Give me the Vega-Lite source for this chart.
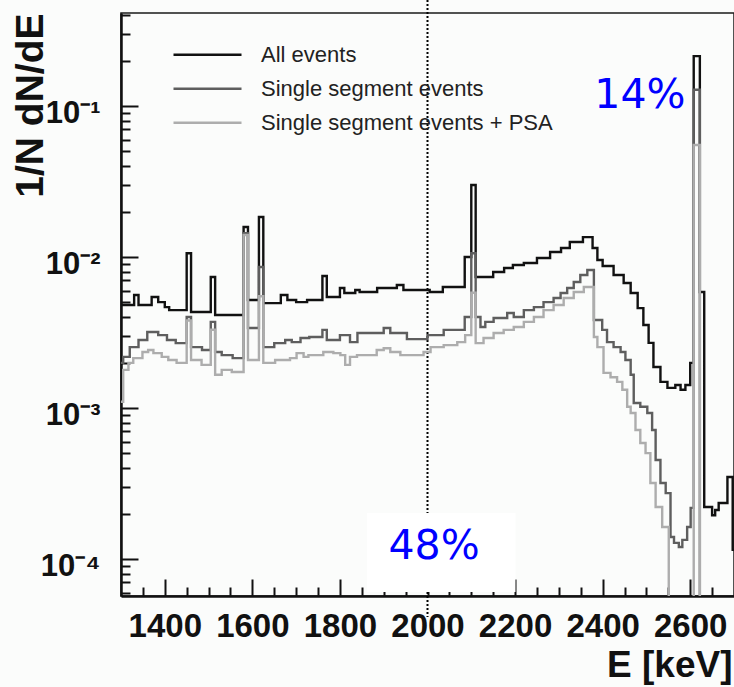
{
  "$schema": "https://vega.github.io/schema/vega-lite/v6.json",
  "width": 613,
  "height": 583,
  "autosize": {"type": "none"},
  "padding": {"left": 121, "top": 13, "right": 0, "bottom": 91},
  "background": "#fbfcfb",
  "config": {
    "font": "Liberation Sans",
    "view": {"stroke": "#1a1a1a", "strokeWidth": 1.5}
  },
  "datasets": {
    "spectra": [
      {"series": "All events", "E": 1300, "v": 0.00481},
      {"series": "All events", "E": 1330, "v": 0.0056},
      {"series": "All events", "E": 1340, "v": 0.00481},
      {"series": "All events", "E": 1370, "v": 0.00543},
      {"series": "All events", "E": 1385, "v": 0.00503},
      {"series": "All events", "E": 1400, "v": 0.00466},
      {"series": "All events", "E": 1410, "v": 0.00445},
      {"series": "All events", "E": 1450, "v": 0.0106},
      {"series": "All events", "E": 1460, "v": 0.00432},
      {"series": "All events", "E": 1505, "v": 0.00738},
      {"series": "All events", "E": 1515, "v": 0.00413},
      {"series": "All events", "E": 1580, "v": 0.0158},
      {"series": "All events", "E": 1590, "v": 0.00519},
      {"series": "All events", "E": 1615, "v": 0.0184},
      {"series": "All events", "E": 1625, "v": 0.00495},
      {"series": "All events", "E": 1665, "v": 0.0056},
      {"series": "All events", "E": 1680, "v": 0.00519},
      {"series": "All events", "E": 1700, "v": 0.00503},
      {"series": "All events", "E": 1725, "v": 0.00519},
      {"series": "All events", "E": 1760, "v": 0.00749},
      {"series": "All events", "E": 1770, "v": 0.00543},
      {"series": "All events", "E": 1800, "v": 0.00624},
      {"series": "All events", "E": 1810, "v": 0.00578},
      {"series": "All events", "E": 1835, "v": 0.00605},
      {"series": "All events", "E": 1845, "v": 0.00586},
      {"series": "All events", "E": 1885, "v": 0.00624},
      {"series": "All events", "E": 1930, "v": 0.00653},
      {"series": "All events", "E": 1945, "v": 0.00605},
      {"series": "All events", "E": 2005, "v": 0.00586},
      {"series": "All events", "E": 2035, "v": 0.00633},
      {"series": "All events", "E": 2085, "v": 0.01},
      {"series": "All events", "E": 2100, "v": 0.03},
      {"series": "All events", "E": 2110, "v": 0.00738},
      {"series": "All events", "E": 2150, "v": 0.00796},
      {"series": "All events", "E": 2175, "v": 0.00845},
      {"series": "All events", "E": 2195, "v": 0.00885},
      {"series": "All events", "E": 2220, "v": 0.00913},
      {"series": "All events", "E": 2250, "v": 0.00985},
      {"series": "All events", "E": 2280, "v": 0.01079},
      {"series": "All events", "E": 2305, "v": 0.01147},
      {"series": "All events", "E": 2325, "v": 0.01256},
      {"series": "All events", "E": 2355, "v": 0.01355},
      {"series": "All events", "E": 2377, "v": 0.01147},
      {"series": "All events", "E": 2388, "v": 0.00955},
      {"series": "All events", "E": 2400, "v": 0.00871},
      {"series": "All events", "E": 2425, "v": 0.0076},
      {"series": "All events", "E": 2448, "v": 0.00673},
      {"series": "All events", "E": 2464, "v": 0.00578},
      {"series": "All events", "E": 2480, "v": 0.00459},
      {"series": "All events", "E": 2493, "v": 0.00355},
      {"series": "All events", "E": 2505, "v": 0.0027},
      {"series": "All events", "E": 2516, "v": 0.00187},
      {"series": "All events", "E": 2532, "v": 0.00149},
      {"series": "All events", "E": 2548, "v": 0.00136},
      {"series": "All events", "E": 2566, "v": 0.00142},
      {"series": "All events", "E": 2578, "v": 0.00132},
      {"series": "All events", "E": 2589, "v": 0.00142},
      {"series": "All events", "E": 2600, "v": 0.00199},
      {"series": "All events", "E": 2608, "v": 0.214},
      {"series": "All events", "E": 2622, "v": 0.00586},
      {"series": "All events", "E": 2632, "v": 0.000221},
      {"series": "All events", "E": 2650, "v": 0.000195},
      {"series": "All events", "E": 2657, "v": 0.000211},
      {"series": "All events", "E": 2665, "v": 0.000235},
      {"series": "All events", "E": 2685, "v": 0.000349},
      {"series": "All events", "E": 2697, "v": 0.000115},
      {"series": "All events", "E": 2700, "v": 0.000115},

      {"series": "Single segment events", "E": 1300, "v": 0.00199},
      {"series": "Single segment events", "E": 1305, "v": 0.00218},
      {"series": "Single segment events", "E": 1320, "v": 0.00253},
      {"series": "Single segment events", "E": 1340, "v": 0.00282},
      {"series": "Single segment events", "E": 1360, "v": 0.00319},
      {"series": "Single segment events", "E": 1385, "v": 0.00304},
      {"series": "Single segment events", "E": 1405, "v": 0.00282},
      {"series": "Single segment events", "E": 1425, "v": 0.00269},
      {"series": "Single segment events", "E": 1450, "v": 0.00401},
      {"series": "Single segment events", "E": 1460, "v": 0.00253},
      {"series": "Single segment events", "E": 1485, "v": 0.00242},
      {"series": "Single segment events", "E": 1505, "v": 0.00372},
      {"series": "Single segment events", "E": 1515, "v": 0.00235},
      {"series": "Single segment events", "E": 1530, "v": 0.00224},
      {"series": "Single segment events", "E": 1555, "v": 0.00214},
      {"series": "Single segment events", "E": 1580, "v": 0.0144},
      {"series": "Single segment events", "E": 1590, "v": 0.00339},
      {"series": "Single segment events", "E": 1615, "v": 0.00859},
      {"series": "Single segment events", "E": 1625, "v": 0.00253},
      {"series": "Single segment events", "E": 1650, "v": 0.00269},
      {"series": "Single segment events", "E": 1675, "v": 0.00282},
      {"series": "Single segment events", "E": 1690, "v": 0.00273},
      {"series": "Single segment events", "E": 1710, "v": 0.00291},
      {"series": "Single segment events", "E": 1730, "v": 0.00295},
      {"series": "Single segment events", "E": 1760, "v": 0.00329},
      {"series": "Single segment events", "E": 1770, "v": 0.00282},
      {"series": "Single segment events", "E": 1800, "v": 0.00304},
      {"series": "Single segment events", "E": 1823, "v": 0.00273},
      {"series": "Single segment events", "E": 1840, "v": 0.00314},
      {"series": "Single segment events", "E": 1900, "v": 0.00339},
      {"series": "Single segment events", "E": 1915, "v": 0.00314},
      {"series": "Single segment events", "E": 1953, "v": 0.00286},
      {"series": "Single segment events", "E": 2000, "v": 0.00304},
      {"series": "Single segment events", "E": 2037, "v": 0.00329},
      {"series": "Single segment events", "E": 2085, "v": 0.00401},
      {"series": "Single segment events", "E": 2100, "v": 0.0106},
      {"series": "Single segment events", "E": 2110, "v": 0.00401},
      {"series": "Single segment events", "E": 2121, "v": 0.00344},
      {"series": "Single segment events", "E": 2132, "v": 0.00372},
      {"series": "Single segment events", "E": 2151, "v": 0.00395},
      {"series": "Single segment events", "E": 2182, "v": 0.00426},
      {"series": "Single segment events", "E": 2197, "v": 0.00401},
      {"series": "Single segment events", "E": 2220, "v": 0.00445},
      {"series": "Single segment events", "E": 2243, "v": 0.00466},
      {"series": "Single segment events", "E": 2265, "v": 0.00503},
      {"series": "Single segment events", "E": 2288, "v": 0.00535},
      {"series": "Single segment events", "E": 2304, "v": 0.00578},
      {"series": "Single segment events", "E": 2319, "v": 0.00624},
      {"series": "Single segment events", "E": 2334, "v": 0.00683},
      {"series": "Single segment events", "E": 2349, "v": 0.0076},
      {"series": "Single segment events", "E": 2365, "v": 0.0082},
      {"series": "Single segment events", "E": 2380, "v": 0.00383},
      {"series": "Single segment events", "E": 2399, "v": 0.00329},
      {"series": "Single segment events", "E": 2410, "v": 0.00273},
      {"series": "Single segment events", "E": 2425, "v": 0.00253},
      {"series": "Single segment events", "E": 2441, "v": 0.00235},
      {"series": "Single segment events", "E": 2452, "v": 0.00208},
      {"series": "Single segment events", "E": 2464, "v": 0.00166},
      {"series": "Single segment events", "E": 2471, "v": 0.00108},
      {"series": "Single segment events", "E": 2486, "v": 0.00102},
      {"series": "Single segment events", "E": 2502, "v": 0.000927},
      {"series": "Single segment events", "E": 2513, "v": 0.000715},
      {"series": "Single segment events", "E": 2521, "v": 0.000453},
      {"series": "Single segment events", "E": 2532, "v": 0.000319},
      {"series": "Single segment events", "E": 2544, "v": 0.000273},
      {"series": "Single segment events", "E": 2555, "v": 0.00014},
      {"series": "Single segment events", "E": 2563, "v": 0.000128},
      {"series": "Single segment events", "E": 2574, "v": 0.00012},
      {"series": "Single segment events", "E": 2582, "v": 0.000134},
      {"series": "Single segment events", "E": 2593, "v": 0.000163},
      {"series": "Single segment events", "E": 2601, "v": 0.000218},
      {"series": "Single segment events", "E": 2608, "v": 0.128},
      {"series": "Single segment events", "E": 2622, "v": 0.000001},
      {"series": "Single segment events", "E": 2700, "v": 0.000001},

      {"series": "Single segment events + PSA", "E": 1300, "v": 0.0011},
      {"series": "Single segment events + PSA", "E": 1305, "v": 0.00179},
      {"series": "Single segment events + PSA", "E": 1317, "v": 0.00199},
      {"series": "Single segment events + PSA", "E": 1328, "v": 0.00214},
      {"series": "Single segment events + PSA", "E": 1349, "v": 0.00235},
      {"series": "Single segment events + PSA", "E": 1362, "v": 0.00242},
      {"series": "Single segment events + PSA", "E": 1374, "v": 0.00231},
      {"series": "Single segment events + PSA", "E": 1393, "v": 0.00218},
      {"series": "Single segment events + PSA", "E": 1408, "v": 0.00208},
      {"series": "Single segment events + PSA", "E": 1427, "v": 0.00199},
      {"series": "Single segment events + PSA", "E": 1450, "v": 0.0038},
      {"series": "Single segment events + PSA", "E": 1460, "v": 0.00208},
      {"series": "Single segment events + PSA", "E": 1484, "v": 0.00193},
      {"series": "Single segment events + PSA", "E": 1505, "v": 0.0033},
      {"series": "Single segment events + PSA", "E": 1515, "v": 0.00166},
      {"series": "Single segment events + PSA", "E": 1530, "v": 0.00179},
      {"series": "Single segment events + PSA", "E": 1553, "v": 0.00173},
      {"series": "Single segment events + PSA", "E": 1580, "v": 0.014},
      {"series": "Single segment events + PSA", "E": 1590, "v": 0.00208},
      {"series": "Single segment events + PSA", "E": 1615, "v": 0.0055},
      {"series": "Single segment events + PSA", "E": 1625, "v": 0.00199},
      {"series": "Single segment events + PSA", "E": 1652, "v": 0.00208},
      {"series": "Single segment events + PSA", "E": 1686, "v": 0.00214},
      {"series": "Single segment events + PSA", "E": 1701, "v": 0.00231},
      {"series": "Single segment events + PSA", "E": 1717, "v": 0.00218},
      {"series": "Single segment events + PSA", "E": 1728, "v": 0.00224},
      {"series": "Single segment events + PSA", "E": 1762, "v": 0.00235},
      {"series": "Single segment events + PSA", "E": 1785, "v": 0.00231},
      {"series": "Single segment events + PSA", "E": 1801, "v": 0.00224},
      {"series": "Single segment events + PSA", "E": 1812, "v": 0.00193},
      {"series": "Single segment events + PSA", "E": 1823, "v": 0.00218},
      {"series": "Single segment events + PSA", "E": 1839, "v": 0.00224},
      {"series": "Single segment events + PSA", "E": 1884, "v": 0.00242},
      {"series": "Single segment events + PSA", "E": 1900, "v": 0.00249},
      {"series": "Single segment events + PSA", "E": 1915, "v": 0.00235},
      {"series": "Single segment events + PSA", "E": 1938, "v": 0.00224},
      {"series": "Single segment events + PSA", "E": 1991, "v": 0.00235},
      {"series": "Single segment events + PSA", "E": 2007, "v": 0.00253},
      {"series": "Single segment events + PSA", "E": 2037, "v": 0.00261},
      {"series": "Single segment events + PSA", "E": 2068, "v": 0.00273},
      {"series": "Single segment events + PSA", "E": 2086, "v": 0.00304},
      {"series": "Single segment events + PSA", "E": 2100, "v": 0.0058},
      {"series": "Single segment events + PSA", "E": 2110, "v": 0.00269},
      {"series": "Single segment events + PSA", "E": 2128, "v": 0.00291},
      {"series": "Single segment events + PSA", "E": 2151, "v": 0.00314},
      {"series": "Single segment events + PSA", "E": 2174, "v": 0.00329},
      {"series": "Single segment events + PSA", "E": 2197, "v": 0.00344},
      {"series": "Single segment events + PSA", "E": 2220, "v": 0.00372},
      {"series": "Single segment events + PSA", "E": 2243, "v": 0.00401},
      {"series": "Single segment events + PSA", "E": 2265, "v": 0.00445},
      {"series": "Single segment events + PSA", "E": 2288, "v": 0.00481},
      {"series": "Single segment events + PSA", "E": 2311, "v": 0.00535},
      {"series": "Single segment events + PSA", "E": 2334, "v": 0.00586},
      {"series": "Single segment events + PSA", "E": 2357, "v": 0.00633},
      {"series": "Single segment events + PSA", "E": 2380, "v": 0.00295},
      {"series": "Single segment events + PSA", "E": 2388, "v": 0.00253},
      {"series": "Single segment events + PSA", "E": 2402, "v": 0.00171},
      {"series": "Single segment events + PSA", "E": 2418, "v": 0.0016},
      {"series": "Single segment events + PSA", "E": 2433, "v": 0.00149},
      {"series": "Single segment events + PSA", "E": 2445, "v": 0.00132},
      {"series": "Single segment events + PSA", "E": 2456, "v": 0.00102},
      {"series": "Single segment events + PSA", "E": 2464, "v": 0.000927},
      {"series": "Single segment events + PSA", "E": 2475, "v": 0.000715},
      {"series": "Single segment events + PSA", "E": 2486, "v": 0.000586},
      {"series": "Single segment events + PSA", "E": 2498, "v": 0.000503},
      {"series": "Single segment events + PSA", "E": 2509, "v": 0.000319},
      {"series": "Single segment events + PSA", "E": 2521, "v": 0.000221},
      {"series": "Single segment events + PSA", "E": 2536, "v": 0.000163},
      {"series": "Single segment events + PSA", "E": 2551, "v": 0.000001},
      {"series": "Single segment events + PSA", "E": 2608, "v": 0.0552},
      {"series": "Single segment events + PSA", "E": 2622, "v": 0.000001},
      {"series": "Single segment events + PSA", "E": 2700, "v": 0.000001}
    ],
    "marker": [
      {"E": 2000, "v": 0.503, "v2": 0.0000413}
    ],
    "labelbox": [
      {"E": 1862, "E2": 2201, "v": 0.000202, "v2": 0.0000604}
    ],
    "notes": [
      {"E": 2485, "v": 0.1164, "label": "14%"},
      {"E": 2015, "v": 0.00012, "label": "48%"}
    ]
  },
  "encoding": {
    "x": {
      "field": "E",
      "type": "quantitative",
      "scale": {"domain": [1300, 2700], "nice": false, "zero": false},
      "axis": null
    },
    "y": {
      "field": "v",
      "type": "quantitative",
      "scale": {"type": "log", "domain": [0.0000569, 0.413], "nice": false},
      "axis": null
    }
  },
  "resolve": {"axis": {"x": "independent", "y": "independent"}},
  "layer": [
    {
      "data": {"name": "marker"},
      "mark": {"type": "rule", "color": "#000000", "strokeWidth": 2, "strokeDash": [2, 2], "clip": false},
      "encoding": {
        "x": {
          "field": "E",
          "type": "quantitative",
          "scale": {"domain": [1300, 2700], "nice": false, "zero": false},
          "axis": {
            "orient": "bottom",
            "title": "E [keV]",
            "titleFont": "Liberation Sans",
            "titleFontSize": 37,
            "titleFontWeight": "bold",
            "titleColor": "#111111",
            "titleAnchor": "end",
            "titleAlign": "right",
            "titleBaseline": "alphabetic",
            "titleX": 611,
            "titleY": 80,
            "values": [1400, 1600, 1800, 2000, 2200, 2400, 2600],
            "format": "d",
            "labelFont": "Liberation Sans",
            "labelFontSize": 33,
            "labelFontWeight": "bold",
            "labelColor": "#111111",
            "labelPadding": 31,
            "labelOverlap": false,
            "labelBound": false,
            "labelFlush": false,
            "tickSize": -17,
            "tickWidth": 2,
            "tickColor": "#111111",
            "domainColor": "#111111",
            "domainWidth": 2.5,
            "grid": false
          }
        },
        "y": {
          "field": "v",
          "type": "quantitative",
          "scale": {"type": "log", "domain": [0.0000569, 0.413], "nice": false},
          "axis": {
            "orient": "left",
            "title": "1/N dN/dE",
            "titleFont": "Liberation Sans",
            "titleFontSize": 39,
            "titleFontWeight": "bold",
            "titleColor": "#111111",
            "titleAngle": 270,
            "titleAnchor": "end",
            "titleAlign": "right",
            "titleBaseline": "alphabetic",
            "titleX": -79,
            "titleY": 0,
            "values": [0.0001, 0.001, 0.01, 0.1],
            "labelExpr": "datum.value == 0.1 ? '10⁻¹' : datum.value == 0.01 ? '10⁻²' : datum.value == 0.001 ? '10⁻³' : '10⁻⁴'",
            "labelFont": "Liberation Sans",
            "labelFontSize": 31,
            "labelFontWeight": "bold",
            "labelColor": "#111111",
            "labelPadding": 38,
            "labelOffset": 7,
            "labelOverlap": false,
            "labelBound": false,
            "labelFlush": false,
            "tickSize": -17,
            "tickWidth": 2,
            "tickColor": "#111111",
            "domainColor": "#111111",
            "domainWidth": 2.5,
            "grid": false
          }
        },
        "y2": {"field": "v2"}
      }
    },
    {
      "data": {"name": "labelbox"},
      "mark": {"type": "rect", "fill": "#ffffff", "stroke": null},
      "encoding": {
        "x": {
          "field": "E",
          "type": "quantitative",
          "scale": {"domain": [1300, 2700], "nice": false, "zero": false},
          "axis": {
            "orient": "bottom",
            "title": null,
            "values": [1350, 1450, 1500, 1550, 1650, 1700, 1750, 1850, 1900, 1950, 2050, 2100, 2150, 2250, 2300, 2350, 2450, 2500, 2550, 2650],
            "labels": false,
            "domain": false,
            "tickSize": -9,
            "tickWidth": 2,
            "tickColor": "#111111",
            "grid": false
          }
        },
        "y": {
          "field": "v",
          "type": "quantitative",
          "scale": {"type": "log", "domain": [0.0000569, 0.413], "nice": false},
          "axis": {
            "orient": "left",
            "title": null,
            "values": [0.00006, 0.00007, 0.00008, 0.00009, 0.0002, 0.0003, 0.0004, 0.0005, 0.0006, 0.0007, 0.0008, 0.0009, 0.002, 0.003, 0.004, 0.005, 0.006, 0.007, 0.008, 0.009, 0.02, 0.03, 0.04, 0.05, 0.06, 0.07, 0.08, 0.09, 0.2, 0.3, 0.4],
            "labels": false,
            "domain": false,
            "tickSize": -9,
            "tickWidth": 2,
            "tickColor": "#111111",
            "grid": false
          }
        },
        "x2": {"field": "E2"},
        "y2": {"field": "v2"}
      }
    },
    {
      "data": {"name": "spectra"},
      "mark": {"type": "line", "interpolate": "step-after", "strokeWidth": 2.4, "clip": true},
      "encoding": {
        "color": {
          "field": "series",
          "type": "nominal",
          "scale": {
            "domain": ["All events", "Single segment events", "Single segment events + PSA"],
            "range": ["#111111", "#5e5e5e", "#adadad"]
          },
          "legend": {
            "title": null,
            "orient": "none",
            "legendX": 51,
            "legendY": 25,
            "symbolType": "stroke",
            "symbolSize": 4624,
            "symbolStrokeWidth": 2.4,
            "clipHeight": 33.5,
            "labelFont": "Liberation Sans",
            "labelFontSize": 22,
            "labelColor": "#222222",
            "labelOffset": 18,
            "rowPadding": 0,
            "padding": 0,
            "labelLimit": 400
          }
        }
      }
    },
    {
      "data": {"name": "notes"},
      "mark": {"type": "text", "font": "DejaVu Sans", "fontSize": 41, "color": "#0000ff", "align": "center", "baseline": "middle"},
      "encoding": {"text": {"field": "label"}}
    }
  ]
}
